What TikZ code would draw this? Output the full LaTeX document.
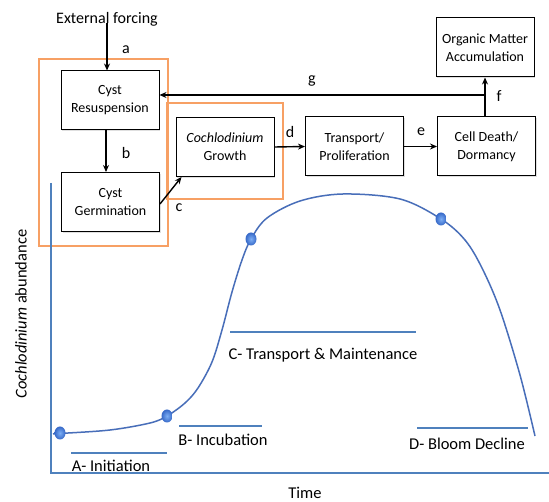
\documentclass[tikz,border=0pt]{standalone}
\usepackage{fontspec}
\setmainfont{Carlito}
\usetikzlibrary{arrows.meta,calc,shadows,shapes.geometric}
\definecolor{axisblue}{RGB}{79,129,189}
\definecolor{curveblue}{RGB}{72,110,185}
\definecolor{dotin}{RGB}{125,175,245}
\definecolor{dotout}{RGB}{55,105,200}
\definecolor{orangeframe}{RGB}{247,160,100}
\tikzset{
  procbox/.style={draw=black, line width=1pt, fill=white, minimum width=98pt, minimum height=59pt,
    align=center, inner sep=1pt, font=\fontsize{14}{18}\selectfont,
    drop shadow={opacity=0.25, shadow xshift=1.2pt, shadow yshift=-1.2pt}},
  conn/.style={line width=1.4pt, -{Stealth[length=7pt,width=6pt]}},
  lab/.style={font=\fontsize{16}{18}\selectfont, inner sep=0pt},
  phase/.style={font=\fontsize{16.5}{19}\selectfont, inner sep=0pt},
  frame/.style={draw=orangeframe, line width=2pt},
  axis/.style={draw=axisblue, line width=1.4pt},
  phaseline/.style={draw=axisblue, line width=1.5pt},
  dotmark/.style={ellipse, minimum width=11pt, minimum height=13pt, inner sep=0pt,
    shading=radial, inner color=dotin, outer color=dotout, draw=none}
}
\begin{document}
\begin{tikzpicture}[x=1pt,y=-1pt]
\useasboundingbox (0,0) rectangle (549,502);
\fill[white] (0,0) rectangle (549,502);

% orange frames
\draw[frame] (39,59) rectangle (168,246);
\draw[frame] (167,103) rectangle (283,199);

% axes
\draw[axis] (51,183) -- (51,473) -- (549,473);

% process boxes
\node[procbox] (resus) at (110,100.5) {Cyst\\Resuspension};
\node[procbox] (germ) at (110.5,202) {Cyst\\Germination};
\node[procbox] (growth) at (225,147) {\textit{Cochlodinium}\\Growth};
\node[procbox] (trans) at (354.5,146.5) {Transport/\\Proliferation};
\node[procbox] (death) at (486.5,146.5) {Cell Death/\\Dormancy};
\node[procbox] (organic) at (485,47.5) {Organic Matter\\Accumulation};

\node[lab] (ext) at (107,19) {External forcing};

% connectors
\draw[conn] ($(ext.south)+(0,-3)$) -- (ext.south |- resus.north);
\draw[conn] ($(resus.south)+(-4,0)$) -- ($(germ.north)+(-4.5,0)$);
\draw[conn] ($(germ.east)+(0,2)$) -- ($(growth.south west)+(6,0)$);
\draw[conn] (growth.east) -- (trans.west);
\draw[conn] (trans.east) -- (death.west);
\draw[conn] (organic.south |- death.north) -- (organic.south);
\coordinate (gstart) at (485,95);
\draw[conn] (gstart) -- (gstart -| resus.east);

\node[lab] (la) at (126,50) {a};
\node[lab] (lb) at (126,153) {b};
\node[lab] (lc) at (179,208) {c};
\node[lab] (ld) at (290,132) {d};
\node[lab] (le) at (421,132) {e};
\node[lab] (lf) at (499,96) {f};
\node[lab] (lg) at (312,81) {g};

% bloom curve
\draw[curveblue, line width=1.5pt] plot[smooth, tension=0.55] coordinates {
 (53,434) (60,433.5) (110,430) (150,423) (167,416) (185,403) (198,388) (212,362)
 (222,330) (232,292) (242,260) (251,239) (267,218) (300,201) (343,194) (400,199) (441,219)
 (465,240) (482,268) (500,310) (520,375) (535,436)};

\node[dotmark] (d1) at (60,433) {};
\node[dotmark] (d2) at (167,416) {};
\node[dotmark] (d3) at (251,239) {};
\node[dotmark] (d4) at (441,219) {};

% phase lines and labels
\draw[phaseline] (71,453) -- (167,453);
\draw[phaseline] (179,426) -- (262,426);
\draw[phaseline] (230,332) -- (416,332);
\draw[phaseline] (417,428) -- (528,428);

\node[phase] (pa) at (111,466) {A- Initiation};
\node[phase] (pb) at (223,440) {B- Incubation};
\node[phase] (pc) at (323,355) {C- Transport \& Maintenance};
\node[phase] (pd) at (467,444) {D- Bloom Decline};

\node[phase, anchor=base] (time) at (305,498) {Time};
\node[phase, rotate=90] (ylab) at (21,314) {\textit{Cochlodinium} abundance};
\end{tikzpicture}
\end{document}
